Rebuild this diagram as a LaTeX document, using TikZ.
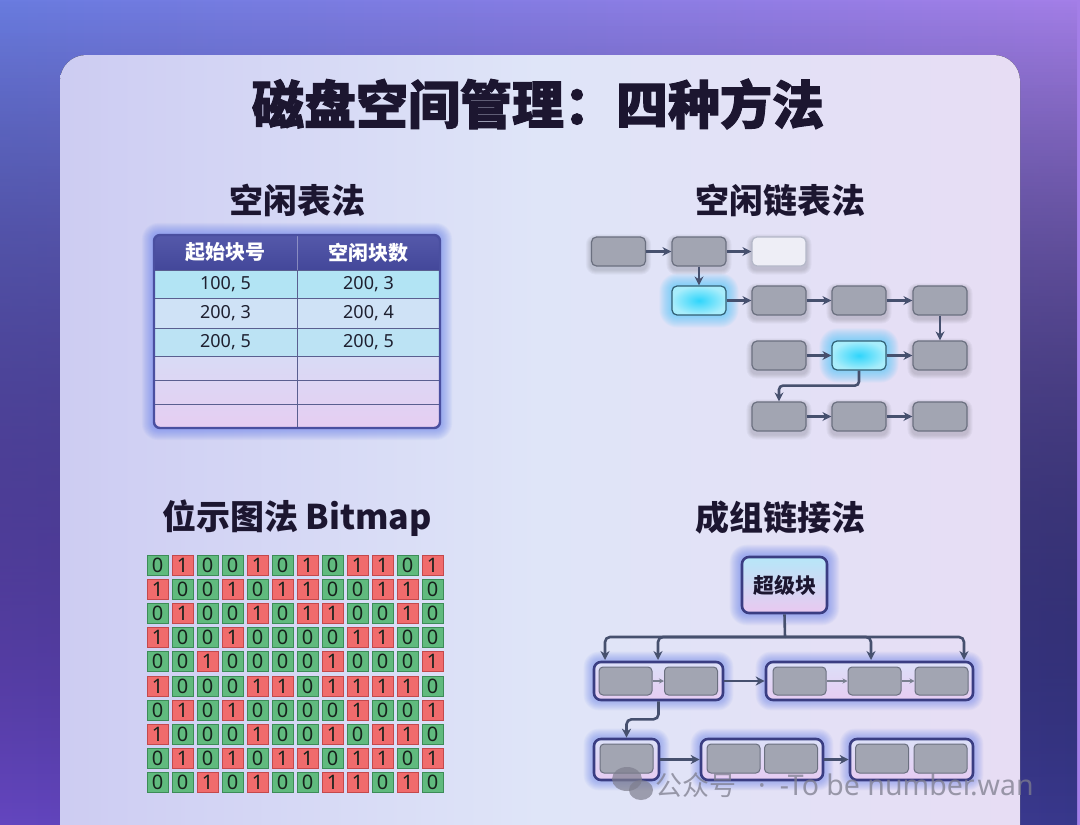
\documentclass[tikz,border=0pt]{standalone}
\usepackage{fontspec}
\setmainfont{Noto Sans}
\newfontfamily\cjk{Noto Sans CJK SC}
\newfontfamily\cjkheavy{Noto Sans CJK SC}[BoldFeatures={FakeBold=2}]
\usetikzlibrary{arrows.meta,fadings,calc}
\pgfdeclarelayer{bg}
\pgfdeclarelayer{glow}
\pgfsetlayers{bg,glow,main}

\definecolor{bgTL}{HTML}{6A7CE0}
\definecolor{bgTR}{HTML}{A47FE8}
\definecolor{bgBL}{HTML}{6446C0}
\definecolor{bgBR}{HTML}{38388C}
\definecolor{cardL}{HTML}{CDCCF2}
\definecolor{cardM}{HTML}{DFE5F8}
\definecolor{cardR}{HTML}{E7DDF4}
\definecolor{titlec}{HTML}{1C1630}
\definecolor{boxgray}{HTML}{A2A5B2}
\definecolor{boxedge}{HTML}{6B7080}
\definecolor{emptyfill}{HTML}{EEEEF6}
\definecolor{emptyedge}{HTML}{B4B8C8}
\definecolor{cyanin}{HTML}{2FD5FB}
\definecolor{cyanout}{HTML}{A8EDFB}
\definecolor{cyanedge}{HTML}{2F5F74}
\definecolor{cyanglow}{HTML}{38C4FF}
\definecolor{blueglow}{HTML}{5A76EE}
\definecolor{arrc}{HTML}{46506E}
\definecolor{sarrc}{HTML}{7A8090}
\definecolor{grpedge}{HTML}{3A3D82}
\definecolor{grptop}{HTML}{DCE0F8}
\definecolor{grpbot}{HTML}{E6CCF2}
\definecolor{suptop}{HTML}{B6E7F8}
\definecolor{supbot}{HTML}{EAC8F0}
\definecolor{gfill}{HTML}{60BA7E}
\definecolor{gedge}{HTML}{3C8C57}
\definecolor{rfill}{HTML}{F06B6C}
\definecolor{redge}{HTML}{C4494C}
\definecolor{bittext}{HTML}{17221C}
\definecolor{hdrtop}{HTML}{5559AA}
\definecolor{hdrbot}{HTML}{43479A}
\definecolor{rowA}{HTML}{B2E4F4}
\definecolor{rowB}{HTML}{CFE2F6}
\definecolor{rowAA}{HTML}{BCE3F4}
\definecolor{rowC}{HTML}{D8DBF5}
\definecolor{rowD}{HTML}{E6CDF2}
\definecolor{tbledge}{HTML}{4A4FA0}
\definecolor{tline}{HTML}{5A5F90}
\definecolor{celltext}{HTML}{1E2030}
\definecolor{wmc}{HTML}{7E7E8E}

\newcommand\glowbox[3]{%
  \foreach \r in {1,...,#3}{%
    \fill[#2, opacity=0.055, rounded corners={6pt+\r pt}]
      ([shift={(-\r,-\r)}]#1.north west) rectangle ([shift={(\r,\r)}]#1.south east);}}
\newcommand\softshadow[1]{%
  \foreach \r in {1,2,3,4,5}{%
    \fill[black, opacity=0.03, rounded corners={5pt+\r pt}]
      ([shift={(-\r,-\r+3)}]#1.north west) rectangle ([shift={(\r,\r+3)}]#1.south east);}}

\begin{document}
\begin{tikzpicture}[x=1pt,y=-1pt,
  blk/.style={rectangle, rounded corners=5pt, minimum width=54pt, minimum height=29pt,
    inner sep=0pt, fill=boxgray, draw=boxedge, line width=1.2pt},
  cyanblk/.style={blk, inner color=cyanin, outer color=cyanout, draw=cyanedge},
  emptyblk/.style={blk, fill=emptyfill, draw=emptyedge},
  arr/.style={draw=arrc, line width=2.6pt, -{Stealth[length=9pt,width=9pt]}},
  plainline/.style={draw=arrc, line width=2.6pt},
  sarr/.style={draw=sarrc, line width=1.3pt, -{Stealth[length=5pt,width=5pt]}},
  grp/.style={rectangle, rounded corners=7pt, draw=grpedge, line width=2.6pt,
    top color=grptop, bottom color=grpbot, inner sep=0pt},
  ib/.style={rectangle, rounded corners=4pt, minimum width=53pt, minimum height=28pt,
    inner sep=0pt, fill=boxgray, draw=boxedge, line width=1pt},
  bit/.style={rectangle, minimum width=21pt, minimum height=20pt, inner sep=0pt,
    line width=1pt, font=\fontsize{20}{20}\selectfont, text=bittext},
  bit0/.style={bit, fill=gfill, draw=gedge},
  bit1/.style={bit, fill=rfill, draw=redge},
  head/.style={font=\cjk\bfseries\fontsize{34}{40}\selectfont, text=titlec},
  hdr/.style={font=\cjk\bfseries\fontsize{20}{24}\selectfont, text=white},
  cell/.style={font=\fontsize{18}{20}\selectfont, text=celltext},
  tl/.style={draw=tline, line width=0.9pt}
]
\useasboundingbox (0,0) rectangle (1080,825);

% ---------- background and card ----------
\begin{pgfonlayer}{bg}
  \fill[left color=bgTL, right color=bgTR] (0,0) rectangle (1080,825);
  \fill[left color=bgBL, right color=bgBR, path fading=north] (0,0) rectangle (1080,825);
  \fill[rounded corners=26pt, left color=cardL, right color=cardR, middle color=cardM]
    (60,55) rectangle (1020,860);
\end{pgfonlayer}

% ---------- titles ----------
\node[font=\cjkheavy\bfseries\fontsize{52}{60}\selectfont, text=titlec] (title) at (538,104) {磁盘空间管理：四种方法};
\node[head] (t1) at (297,200) {空闲表法};
\node[head] (t2) at (780,200) {空闲链表法};
\node[head] (t3) at (297,518) {位示图法 Bitmap};
\node[head] (t4) at (780,518) {成组链接法};

% ---------- free table ----------
\begin{scope}
  \clip[rounded corners=6pt] (154,235) rectangle (440,428);
  \fill[top color=hdrtop, bottom color=hdrbot] (154,235) rectangle (440,270);
  \fill[rowA] (154,270) rectangle (440,298);
  \fill[rowB] (154,298) rectangle (440,328);
  \fill[rowAA] (154,328) rectangle (440,356);
  \fill[top color=rowC, bottom color=rowD] (154,356) rectangle (440,428);
\end{scope}
\foreach \yy in {270,298,328,356,380,404}{\draw[tl] (154,\yy) -- (440,\yy);}
\draw[tl] (297,270) -- (297,428);
\draw[draw=white, opacity=0.35, line width=0.9pt] (297,235) -- (297,270);
\node[rectangle, rounded corners=6pt, draw=tbledge, line width=2.4pt, inner sep=0pt,
  minimum width=286pt, minimum height=193pt] (tbl) at (297,331.5) {};
\node[hdr] (h1) at (225.5,252.5) {起始块号};
\node[hdr] (h2) at (368.5,252.5) {空闲块数};
\node[cell] (c11) at (225.5,284) {100, 5};
\node[cell] (c12) at (368.5,284) {200, 3};
\node[cell] (c21) at (225.5,313) {200, 3};
\node[cell] (c22) at (368.5,313) {200, 4};
\node[cell] (c31) at (225.5,342) {200, 5};
\node[cell] (c32) at (368.5,342) {200, 5};

% ---------- free linked list ----------
\node[blk] (A) at (618.5,251.5) {};
\node[blk] (B) at (699,251.5) {};
\node[emptyblk] (C) at (779,251.5) {};
\node[cyanblk] (D) at (699,300.5) {};
\node[blk] (E) at (779,300.5) {};
\node[blk] (F) at (859,300.5) {};
\node[blk] (G) at (940,300.5) {};
\node[blk] (H) at (779,355.5) {};
\node[cyanblk] (I) at (859,355.5) {};
\node[blk] (J) at (940,355.5) {};
\node[blk] (K) at (779,416.5) {};
\node[blk] (L) at (859,416.5) {};
\node[blk] (M) at (940,416.5) {};
\draw[arr] (A) -- (B);
\draw[arr] (B) -- (C);
\draw[arr] (B) -- (D);
\draw[arr] (D) -- (E);
\draw[arr] (E) -- (F);
\draw[arr] (F) -- (G);
\draw[arr] (G) -- (J);
\draw[arr] (H) -- (I);
\draw[arr] (I) -- (J);
\draw[arr, rounded corners=4pt] (I.south) -- ++(0,15) -| (K.north);
\draw[arr] (K) -- (L);
\draw[arr] (L) -- (M);

% ---------- bitmap ----------
\foreach \row [count=\i] in {
  {0,1,0,0,1,0,1,0,1,1,0,1},
  {1,0,0,1,0,1,1,0,0,1,1,0},
  {0,1,0,0,1,0,1,1,0,0,1,0},
  {1,0,0,1,0,0,0,0,1,1,0,0},
  {0,0,1,0,0,0,0,1,0,0,0,1},
  {1,0,0,0,1,1,0,1,1,1,1,0},
  {0,1,0,1,0,0,0,0,1,0,0,1},
  {1,0,0,0,1,0,0,1,0,1,1,0},
  {0,1,0,1,0,1,1,0,1,1,0,1},
  {0,0,1,0,1,0,0,1,1,0,1,0}}{%
  \foreach \v [count=\j] in \row {%
    \node[bit\v] (b-\i-\j) at ({157.5+25*(\j-1)},{565+24.2*(\i-1)}) {\v};
  }
}

% ---------- grouped linking ----------
\node[rectangle, rounded corners=7pt, draw=grpedge, line width=2.6pt, top color=suptop,
  bottom color=supbot, minimum width=85pt, minimum height=56pt, inner sep=0pt,
  font=\cjk\bfseries\fontsize{21}{24}\selectfont, text=titlec] (sup) at (784.5,585) {超级块};

\node[grp, minimum width=129pt, minimum height=38pt] (g1) at (658.5,681) {};
\node[ib] (g1a) at (625.5,681) {};
\node[ib] (g1b) at (691,681) {};
\node[grp, minimum width=207pt, minimum height=38pt] (g2) at (869.5,681) {};
\node[ib] (g2a) at (799.5,681) {};
\node[ib] (g2b) at (874.5,681) {};
\node[ib] (g2c) at (941.5,681) {};
\node[grp, minimum width=65pt, minimum height=41pt] (g3) at (626.5,759.5) {};
\node[ib, minimum height=29pt] (g3a) at (626.5,758.5) {};
\node[grp, minimum width=122pt, minimum height=41pt] (g4) at (762,759.5) {};
\node[ib, minimum height=29pt] (g4a) at (733.5,758.5) {};
\node[ib, minimum height=29pt] (g4b) at (791,758.5) {};
\node[grp, minimum width=123pt, minimum height=41pt] (g5) at (911.5,759.5) {};
\node[ib, minimum height=29pt] (g5a) at (882,758.5) {};
\node[ib, minimum height=29pt] (g5b) at (940.5,758.5) {};

\coordinate (jn) at (785,637);
\coordinate (d1) at (605,660);
\coordinate (d2) at (658,660);
\coordinate (d3) at (871,660);
\coordinate (d4) at (964,660);
\draw[plainline] (sup.south) -- (jn);
\draw[arr, rounded corners=5pt] (jn) -| (d1);
\draw[arr, rounded corners=5pt] (jn) -| (d2);
\draw[arr, rounded corners=5pt] (jn) -| (d3);
\draw[arr, rounded corners=5pt] (jn) -| (d4);
\draw[sarr] (g1a) -- (g1b);
\draw[sarr] (g2a) -- (g2b);
\draw[sarr] (g2b) -- (g2c);
\draw[arr] (g1) -- (g2);
\draw[arr, rounded corners=5pt] (g1.south) -- ++(0,18) -| (g3.north);
\draw[arr] (g3) -- (g4);
\draw[arr] (g4) -- (g5);

% ---------- glows and shadows ----------
\begin{pgfonlayer}{glow}
  \glowbox{tbl}{blueglow}{11}
  \foreach \n in {A,B,C,E,F,G,H,J,K,L,M}{\softshadow{\n}}
  \glowbox{D}{cyanglow}{12}
  \glowbox{I}{cyanglow}{12}
  \glowbox{sup}{blueglow}{11}
  \foreach \n in {g1,g2,g3,g4,g5}{\glowbox{\n}{blueglow}{9}}
\end{pgfonlayer}

% ---------- watermark ----------
\fill[wmc, opacity=0.7] (627,779) ellipse [x radius=15pt, y radius=12pt];
\fill[wmc, opacity=0.7] (641,790) ellipse [x radius=12pt, y radius=10pt];
\node[anchor=west, text=wmc, opacity=0.75, font=\fontsize{28.5}{30}\selectfont, inner sep=0pt]
  (wm) at (655,785) {{\cjk\fontsize{27}{30}\selectfont 公众号}\hspace{22pt}·\hspace{14pt}-To be number.wan};
\end{tikzpicture}
\end{document}
